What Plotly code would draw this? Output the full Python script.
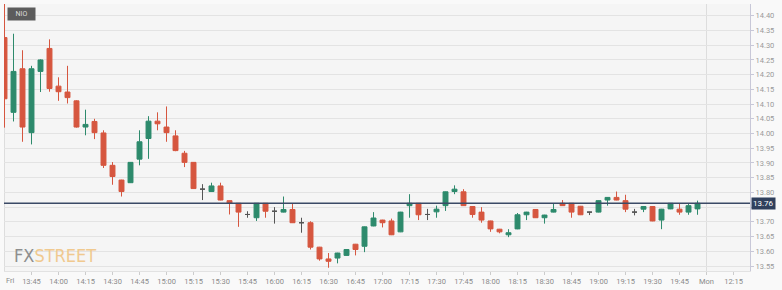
import plotly.graph_objects as go

# 5-minute candles, Friday session starting 13:30
opens = [14.326, 14.072, 14.220, 14.003, 14.211, 14.289, 14.161, 14.141, 14.111, 14.022,
         14.041, 14.002, 13.892, 13.842, 13.833, 13.913, 13.983, 14.042, 14.022, 13.992,
         13.933, 13.902, 13.811, 13.803, 13.822, 13.772, 13.763, 13.725, 13.714, 13.763,
         13.736, 13.733, 13.742, 13.697, 13.697, 13.614, 13.574, 13.577, 13.586, 13.624,
         13.617, 13.686, 13.706, 13.703, 13.666, 13.755, 13.763, 13.725, 13.734, 13.755,
         13.803, 13.802, 13.752, 13.733, 13.703, 13.675, 13.656, 13.676, 13.724, 13.742,
         13.714, 13.733, 13.763, 13.763, 13.753, 13.733, 13.733, 13.774, 13.783, 13.772,
         13.733, 13.743, 13.752, 13.706, 13.744, 13.743, 13.733, 13.744]
highs = [14.440, 14.339, 14.283, 14.230, 14.252, 14.320, 14.191, 14.230, 14.113, 14.081,
         14.050, 14.011, 13.903, 13.843, 13.903, 14.011, 14.059, 14.072, 14.092, 14.011,
         13.941, 13.903, 13.828, 13.833, 13.833, 13.773, 13.764, 13.736, 13.764, 13.764,
         13.750, 13.786, 13.763, 13.714, 13.702, 13.615, 13.594, 13.595, 13.607, 13.625,
         13.684, 13.733, 13.707, 13.711, 13.734, 13.794, 13.764, 13.744, 13.755, 13.803,
         13.824, 13.811, 13.753, 13.750, 13.704, 13.676, 13.675, 13.730, 13.734, 13.743,
         13.724, 13.763, 13.774, 13.764, 13.754, 13.734, 13.773, 13.784, 13.803, 13.792,
         13.744, 13.753, 13.753, 13.744, 13.764, 13.763, 13.763, 13.772]
lows = [14.020, 14.041, 13.972, 13.963, 14.141, 14.142, 14.111, 14.102, 14.020, 13.994,
        13.981, 13.883, 13.826, 13.786, 13.832, 13.892, 13.914, 14.011, 13.972, 13.940,
        13.886, 13.812, 13.774, 13.802, 13.773, 13.725, 13.683, 13.714, 13.703, 13.714,
        13.694, 13.732, 13.696, 13.663, 13.606, 13.568, 13.544, 13.559, 13.585, 13.586,
        13.597, 13.685, 13.681, 13.655, 13.665, 13.714, 13.706, 13.706, 13.714, 13.737,
        13.794, 13.754, 13.714, 13.697, 13.666, 13.661, 13.648, 13.675, 13.706, 13.713,
        13.694, 13.732, 13.754, 13.714, 13.723, 13.723, 13.732, 13.755, 13.773, 13.733,
        13.722, 13.733, 13.702, 13.675, 13.743, 13.724, 13.724, 13.724]
closes = [14.118, 14.211, 14.022, 14.220, 14.250, 14.153, 14.142, 14.122, 14.022, 14.031,
          14.003, 13.892, 13.854, 13.803, 13.902, 13.972, 14.042, 14.033, 14.003, 13.942,
          13.902, 13.813, 13.811, 13.822, 13.774, 13.763, 13.733, 13.725, 13.763, 13.736,
          13.736, 13.742, 13.697, 13.697, 13.614, 13.574, 13.566, 13.594, 13.606, 13.606,
          13.683, 13.713, 13.697, 13.656, 13.733, 13.763, 13.724, 13.725, 13.743, 13.802,
          13.811, 13.755, 13.725, 13.706, 13.676, 13.666, 13.663, 13.724, 13.733, 13.714,
          13.723, 13.742, 13.755, 13.733, 13.724, 13.733, 13.772, 13.783, 13.774, 13.743,
          13.733, 13.752, 13.703, 13.743, 13.763, 13.733, 13.755, 13.763]

session_label = "Fri"
tick_labels = ["13:45", "14:00", "14:15", "14:30", "14:45", "15:00", "15:15", "15:30",
               "15:45", "16:00", "16:15", "16:30", "16:45", "17:00", "17:15", "17:30",
               "17:45", "18:00", "18:15", "18:30", "18:45", "19:00", "19:15", "19:30",
               "19:45", "Mon", "12:15"]
price_ticks = [13.55, 13.60, 13.65, 13.70, 13.75, 13.80, 13.85, 13.90, 13.95, 14.00,
               14.05, 14.10, 14.15, 14.20, 14.25, 14.30, 14.35, 14.40]
symbol = "NIO"

GREEN = "#2d8a6c"
RED = "#d6563f"
DOJI = "#555555"
NAVY = "#2f3f5c"

idx = list(range(len(opens)))
reg = [i for i in idx if opens[i] != closes[i]]
doj = [i for i in idx if opens[i] == closes[i]]

fig = go.Figure()
fig.add_trace(go.Candlestick(
    x=reg, open=[opens[i] for i in reg], high=[highs[i] for i in reg],
    low=[lows[i] for i in reg], close=[closes[i] for i in reg],
    increasing=dict(line=dict(color=GREEN, width=1), fillcolor=GREEN),
    decreasing=dict(line=dict(color=RED, width=1), fillcolor=RED),
    whiskerwidth=0, showlegend=False, hoverinfo="skip"))
fig.add_trace(go.Candlestick(
    x=doj, open=[opens[i] for i in doj], high=[highs[i] for i in doj],
    low=[lows[i] for i in doj], close=[closes[i] for i in doj],
    increasing=dict(line=dict(color=DOJI, width=1), fillcolor=DOJI),
    decreasing=dict(line=dict(color=DOJI, width=1), fillcolor=DOJI),
    whiskerwidth=0, showlegend=False, hoverinfo="skip"))

last = closes[-1]
tickpos = [3 * (k + 1) for k in range(len(tick_labels))]
mon_pos = tickpos[tick_labels.index("Mon")]
# the current-price badge covers the tick label nearest to it
price_text = ["" if abs(v - last) < 0.025 else f"{v:.2f}" for v in price_ticks]

# session separators
for xv in (0, mon_pos):
    fig.add_shape(type="line", xref="x", yref="paper", x0=xv, x1=xv, y0=0, y1=1,
                  line=dict(color="#dddddd", width=1), layer="below")
# current price line
fig.add_shape(type="line", xref="paper", yref="y", x0=0, x1=1, y0=last, y1=last,
              line=dict(color="#3b4a66", width=1.5))

fig.add_annotation(xref="paper", yref="y", x=1, y=last, xanchor="left", yanchor="middle",
                   text=f"{last:.2f}", showarrow=False, bgcolor=NAVY, borderpad=1,
                   font=dict(family="Roboto, sans-serif", size=8, color="white"), xshift=1)
fig.add_annotation(xref="paper", yref="paper", x=0.004, y=0.989, xanchor="left", yanchor="top",
                   text=symbol, showarrow=False, bgcolor="#5c5c5c", width=25, height=10,
                   font=dict(family="Roboto, sans-serif", size=7, color="#dddddd"))
fig.add_annotation(xref="x", yref="paper", x=0, y=0, xanchor="left", yanchor="top",
                   text=session_label, showarrow=False, yshift=-3, xshift=-1,
                   font=dict(family="Roboto, sans-serif", size=7.5, color="#8a8a8a"))
fig.add_annotation(xref="paper", yref="paper", x=0.011, y=0.012, xanchor="left", yanchor="bottom",
                   text="<span style='color:#8e8e8e'>FX</span><span style='color:#f0c98f'>STREET</span>",
                   showarrow=False,
                   font=dict(family="Liberation Sans Narrow, DejaVu Sans Condensed, Roboto, sans-serif",
                             size=18))

fig.update_layout(
    width=782, height=290,
    margin=dict(l=4, r=32, t=4, b=16),
    paper_bgcolor="#f9f9f9", plot_bgcolor="#f5f5f5",
    boxgap=0.22,
    font=dict(family="Roboto, sans-serif", size=7.5, color="#8a8a8a"),
    xaxis=dict(range=[-0.056, 82.83], rangeslider=dict(visible=False), showgrid=False,
               zeroline=False, tickmode="array", tickvals=tickpos, ticktext=tick_labels,
               ticks="outside", ticklen=3, tickcolor="#cccccc", showline=True,
               linecolor="#e2e2e2", tickfont=dict(size=7.5, color="#8a8a8a")),
    yaxis=dict(side="right", range=[13.533, 14.440], tickmode="array",
               tickvals=price_ticks, ticktext=price_text,
               gridcolor="#e3e3e3", gridwidth=1, zeroline=False,
               ticks="outside", ticklen=3, tickcolor="#c8c8d8", showline=True,
               linecolor="#c8c8d8", mirror=False, tickfont=dict(size=7.5, color="#9a9a9a")),
)

fig.write_html("out.html")
